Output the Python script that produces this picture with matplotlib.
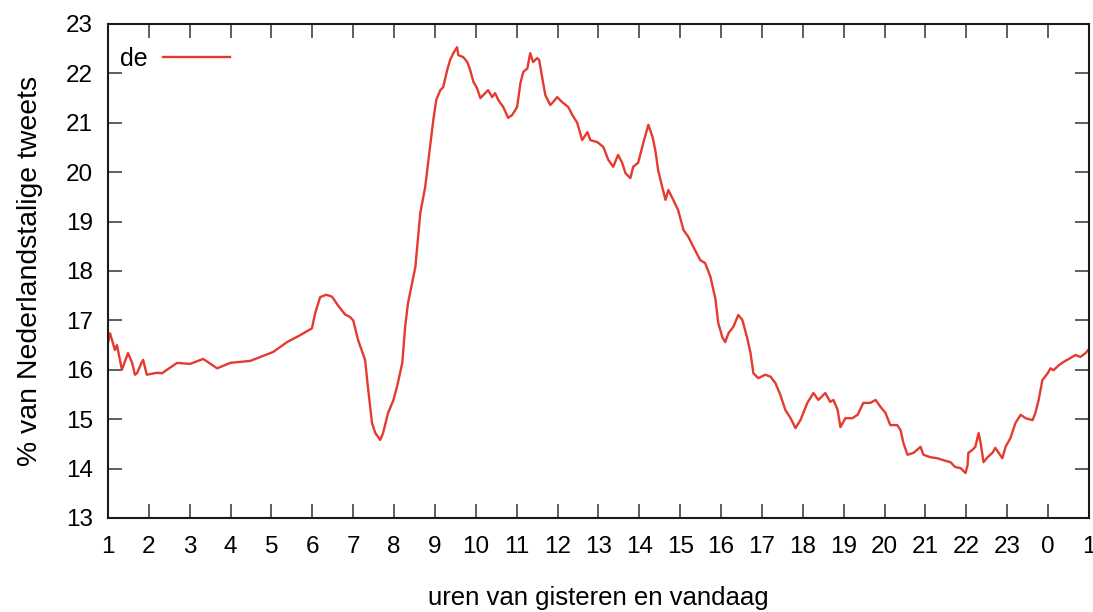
import matplotlib
matplotlib.use("Agg")
import matplotlib.pyplot as plt

# uren (1 = 01:00 gisteren, 24 = 00:00, 25 = 01:00 vandaag)
uren = [
    1.00, 1.05, 1.17, 1.22, 1.34, 1.47, 1.49, 1.59, 1.66, 1.71, 1.83, 1.86,
    1.95, 2.20, 2.32, 2.69, 3.01, 3.33, 3.67, 3.99, 4.48, 5.04, 5.38, 5.70,
    5.99, 6.07, 6.19, 6.34, 6.48, 6.63, 6.80, 6.92, 7.00, 7.12, 7.29, 7.36,
    7.46, 7.54, 7.66, 7.73, 7.85, 7.98, 8.07, 8.20, 8.27, 8.34, 8.44, 8.52,
    8.64, 8.76, 8.88, 8.96, 9.03, 9.13, 9.20, 9.30, 9.37, 9.45, 9.54, 9.57,
    9.69, 9.79, 9.86, 9.94, 10.03, 10.11, 10.18, 10.30, 10.40, 10.47, 10.55,
    10.67, 10.79, 10.89, 11.01, 11.09, 11.16, 11.26, 11.33, 11.40, 11.50,
    11.55, 11.62, 11.70, 11.82, 11.89, 11.99, 12.11, 12.26, 12.36, 12.48,
    12.60, 12.73, 12.80, 12.97, 13.12, 13.24, 13.36, 13.48, 13.58, 13.66,
    13.78, 13.85, 13.97, 14.10, 14.22, 14.32, 14.39, 14.46, 14.56, 14.64,
    14.71, 14.83, 14.95, 15.08, 15.20, 15.32, 15.49, 15.61, 15.74, 15.86,
    15.93, 16.03, 16.10, 16.18, 16.30, 16.42, 16.52, 16.64, 16.72, 16.79,
    16.91, 17.08, 17.21, 17.33, 17.45, 17.57, 17.70, 17.82, 17.94, 18.11,
    18.26, 18.38, 18.55, 18.67, 18.75, 18.85, 18.92, 19.04, 19.21, 19.34,
    19.48, 19.65, 19.78, 19.90, 20.02, 20.14, 20.31, 20.39, 20.46, 20.56,
    20.71, 20.88, 20.95, 21.12, 21.29, 21.44, 21.61, 21.73, 21.86, 21.98,
    22.03, 22.05, 22.15, 22.22, 22.30, 22.35, 22.42, 22.52, 22.64, 22.71,
    22.79, 22.88, 22.96, 23.08, 23.20, 23.33, 23.45, 23.62, 23.69, 23.77,
    23.86, 23.99, 24.06, 24.13, 24.26, 24.38, 24.55, 24.67, 24.79, 24.92,
    25.00,
]

# % van Nederlandstalige tweets in het Duits ("de")
procent_de = [
    16.55, 16.74, 16.40, 16.50, 16.00, 16.30, 16.34, 16.14, 15.90, 15.93,
    16.16, 16.20, 15.90, 15.94, 15.93, 16.14, 16.12, 16.22, 16.03, 16.14,
    16.18, 16.36, 16.56, 16.70, 16.84, 17.15, 17.47, 17.52, 17.48, 17.30,
    17.12, 17.07, 17.00, 16.60, 16.20, 15.65, 14.92, 14.72, 14.58, 14.72,
    15.12, 15.38, 15.65, 16.14, 16.87, 17.35, 17.75, 18.08, 19.17, 19.70,
    20.51, 21.06, 21.46, 21.66, 21.72, 22.07, 22.27, 22.41, 22.53, 22.37,
    22.33, 22.23, 22.07, 21.83, 21.70, 21.50, 21.56, 21.66, 21.52, 21.60,
    21.46, 21.32, 21.10, 21.16, 21.32, 21.80, 22.03, 22.10, 22.41, 22.23,
    22.31, 22.27, 21.93, 21.56, 21.36, 21.42, 21.52, 21.42, 21.32, 21.16,
    21.00, 20.65, 20.81, 20.65, 20.61, 20.51, 20.25, 20.11, 20.35, 20.19,
    19.98, 19.88, 20.11, 20.19, 20.60, 20.96, 20.72, 20.45, 20.04, 19.70,
    19.44, 19.64, 19.44, 19.23, 18.83, 18.69, 18.49, 18.22, 18.16, 17.88,
    17.44, 16.95, 16.66, 16.56, 16.74, 16.87, 17.11, 17.01, 16.64, 16.34,
    15.93, 15.83, 15.90, 15.86, 15.73, 15.49, 15.19, 15.02, 14.82, 14.98,
    15.33, 15.53, 15.39, 15.53, 15.35, 15.39, 15.19, 14.84, 15.02, 15.02,
    15.09, 15.33, 15.33, 15.39, 15.25, 15.13, 14.88, 14.88, 14.78, 14.52,
    14.28, 14.32, 14.44, 14.28, 14.23, 14.21, 14.17, 14.13, 14.03, 14.01,
    13.91, 14.07, 14.32, 14.38, 14.44, 14.72, 14.52, 14.13, 14.23, 14.32,
    14.42, 14.32, 14.21, 14.44, 14.62, 14.92, 15.09, 15.02, 14.98, 15.13,
    15.39, 15.79, 15.93, 16.03, 15.99, 16.09, 16.16, 16.24, 16.30, 16.26,
    16.34, 16.42,
]

x_ticks = list(range(1, 26))
x_labels = [str(h) for h in range(1, 24)] + ["0", "1"]
y_ticks = list(range(13, 24))

plt.rcParams['font.family'] = ['Liberation Sans', 'DejaVu Sans']

fig = plt.figure(figsize=(10.93, 6.12), dpi=100)
ax = fig.add_axes([0.0988, 0.1536, 0.8975, 0.8072])

ax.plot(uren, procent_de, color='#e53a2f', linewidth=1.7, label='de')

ax.set_xlim(1, 25)
ax.set_ylim(13, 23)
ax.set_xticks(x_ticks)
ax.set_xticklabels(x_labels)
ax.set_yticks(y_ticks)

# gnuplot-stijl: ticks naar binnen, aan alle kanten
ax.tick_params(direction='in', length=10, width=1.1, color='#333333',
               labelsize=17.5, top=True, right=True)
ax.tick_params(axis='x', pad=13)
ax.tick_params(axis='y', pad=11)
for spine in ax.spines.values():
    spine.set_linewidth(1.5)
    spine.set_color('#1a1a1a')

ax.set_xlabel("uren van gisteren en vandaag", fontsize=18.5, labelpad=20)
ax.set_ylabel("% van Nederlandstalige tweets", fontsize=20.4, labelpad=16)

ax.legend(loc='upper left', bbox_to_anchor=(0.0, 0.978), frameon=False,
          markerfirst=False, fontsize=18, handlelength=2.7,
          handletextpad=0.6, borderaxespad=0.28, borderpad=0.2)

fig.savefig("out.png", dpi=100)
